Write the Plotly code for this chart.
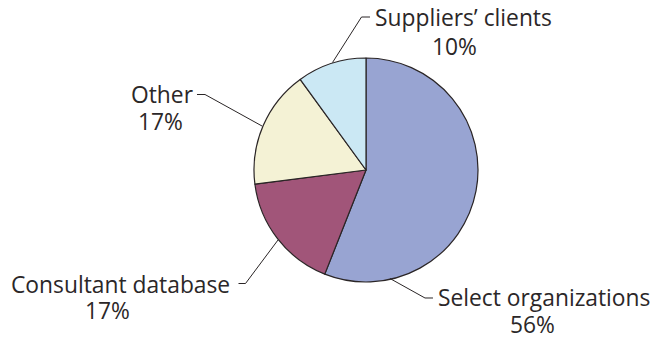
import plotly.graph_objects as go

# Source share of candidate organizations
labels = ["Select organizations", "Consultant database", "Other", "Suppliers\u2019 clients"]
values = [56, 17, 17, 10]
colors = ["#98A4D2", "#A15579", "#F4F2D5", "#CBE8F4"]

W, H = 653, 337
CX, CY, R = 366, 170, 112  # pie centre and radius in pixels


def px(x):
    return x / W


def py(y):
    return 1 - y / H


fig = go.Figure(
    go.Pie(
        labels=labels,
        values=values,
        sort=False,
        direction="clockwise",
        rotation=0,
        textinfo="none",
        hoverinfo="label+percent",
        marker=dict(colors=colors, line=dict(color="#2a2526", width=1.2)),
        domain=dict(x=[px(CX - R), px(CX + R)], y=[py(CY + R), py(CY - R)]),
        showlegend=False,
    )
)

# Leader lines (pixel polylines from slice edge to label)
leaders = [
    [(390, 278.5), (425, 298), (433, 298)],
    [(278, 240), (245.5, 283.5), (238.5, 283.5)],
    [(262, 126), (205, 94.5), (197, 94.5)],
    [(332.5, 62.5), (361.5, 17), (370, 17)],
]
shapes = []
for pts in leaders:
    path = "M " + " L ".join(f"{px(x):.5f},{py(y):.5f}" for x, y in pts)
    shapes.append(dict(type="path", xref="paper", yref="paper", path=path,
                       line=dict(color="#2a2526", width=1)))

# Label positions: (name x, name y, percent x, percent y) in pixels
label_pos = [
    (544, 297.5, 532, 324.5),
    (120, 284, 107.5, 310),
    (162, 94, 160, 121),
    (463, 18, 454, 46),
]
annotations = []
font = dict(family="Open Sans", size=22.8, color="#2b2728")
for name, v, (x1, y1, x2, y2) in zip(labels, values, label_pos):
    annotations.append(dict(text=name, x=px(x1), y=py(y1), xref="paper", yref="paper",
                            xanchor="center", yanchor="middle", showarrow=False, font=font))
    annotations.append(dict(text=f"{v}%", x=px(x2), y=py(y2), xref="paper", yref="paper",
                            xanchor="center", yanchor="middle", showarrow=False, font=font))

fig.update_layout(
    width=W,
    height=H,
    margin=dict(l=0, r=0, t=0, b=0),
    paper_bgcolor="white",
    plot_bgcolor="white",
    shapes=shapes,
    annotations=annotations,
)

fig.write_html("out.html")
